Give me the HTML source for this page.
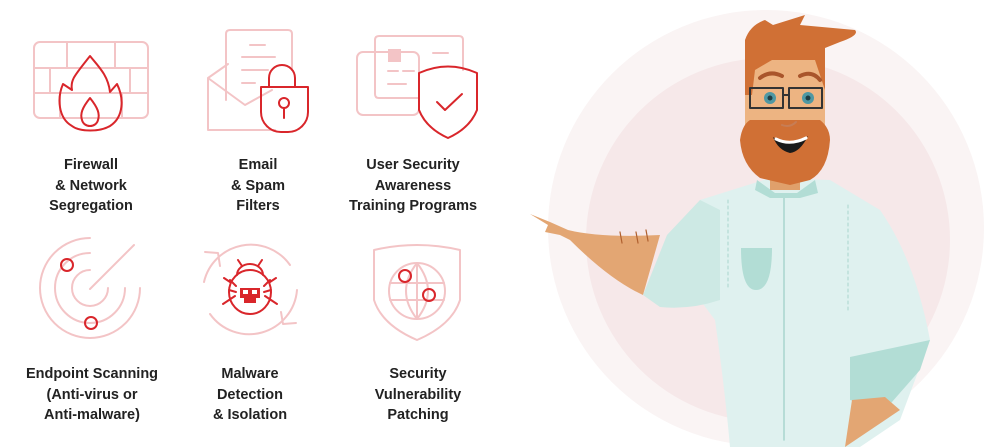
<!DOCTYPE html>
<html><head><meta charset="utf-8"><style>
html,body{margin:0;padding:0;background:#fff;}
body{width:999px;height:447px;position:relative;overflow:hidden;font-family:"Liberation Sans",sans-serif;}
.t{position:absolute;font-weight:bold;font-size:14.5px;line-height:20.5px;color:#222;text-align:center;width:180px;}
</style></head><body>
<svg width="999" height="447" style="position:absolute;left:0;top:0" fill="none" stroke-linecap="round" stroke-linejoin="round">
<!-- background circles -->
<circle cx="766" cy="228" r="218" fill="#faf4f4"/>
<circle cx="768" cy="240" r="182" fill="#f6e8e9"/>
<g stroke="#f3c4c6" stroke-width="2">
<!-- firewall bricks -->
<rect x="34" y="42" width="114" height="76" rx="6"/>
<path d="M34 68H148M34 93H148M67 42V68M115 42V68M50 68V93M130 68V93M60 93V118M122 93V118"/>
<!-- email -->
<path d="M208 78L245 105L272 90M208 78V130H275M208 78L228 64"/>
<path d="M226 100V34q0-4 4-4h58q4 0 4 4V70"/>
<path d="M250 45H265M242 57H275M242 70H268M242 83H255"/>
<!-- user security cards -->
<rect x="357" y="52" width="62" height="63" rx="6"/>
<path d="M418 98H379q-4 0-4-4V40q0-4 4-4h80q4 0 4 4V70"/>
<path d="M433 53H448M388 71H398M403 71H414M388 84H406"/>
<!-- radar -->
<path d="M140 288A50 50 0 1 1 90 238"/>
<path d="M125 288A35 35 0 1 1 90 253M108 288A18 18 0 1 1 90 270"/>
<path d="M90 289L134 245"/>
<!-- malware cycle -->
<path d="M290 265A48 48 0 0 0 204 282M210 314A48 48 0 0 0 297 290"/>
<path d="M205 252L218 253L220 266M296 323L283 324L281 312"/>
<!-- patching shield -->
<path d="M374 250Q417 240 460 250V300Q452 325 417 340Q382 325 374 300Z"/>
<circle cx="417" cy="291" r="28"/>
<path d="M417 263V319M390 283H444M390 300H444M417 263Q395 291 417 319M417 263Q439 291 417 319"/>
</g>
<rect x="388" y="49" width="13" height="13" fill="#f3c4c6"/>
<g stroke="#d9262b" stroke-width="2">
<!-- flame -->
<path d="M90 56C75 75 70 80 72 90L63 84C57 98 58 118 72 126C80 132 100 132 110 126C124 117 124 98 117 84L110 92C108 75 98 66 90 56Z"/>
<path d="M90 98C82 108 80 114 82 120C84 128 96 128 98 120C100 114 98 108 90 98Z"/>
<!-- lock -->
<path d="M269 87V78a13 13 0 0 1 26 0V87"/>
<path d="M261 87H308V112a20 20 0 0 1-20 20h-7a20 20 0 0 1-20-20Z"/>
<circle cx="284" cy="103" r="5"/><path d="M284 108V118"/>
<!-- shield -->
<path d="M419 73Q448 60 477 73V110Q470 128 448 138Q426 128 419 110Z"/>
<path d="M437 102L445 110L462 94"/>
<!-- radar dots -->
<circle cx="67" cy="265" r="6"/><circle cx="91" cy="323" r="6"/>
<!-- globe dots -->
<circle cx="405" cy="276" r="6"/><circle cx="429" cy="295" r="6"/>
<!-- bug -->
<ellipse cx="250" cy="292" rx="21" ry="22"/>
<path d="M237 275a13 11 0 0 1 26 0"/>
<path d="M242 266L238 260M258 266L262 260M230 280L236 286M224 278L230 282M270 280L264 286M276 278L270 282M229 300L235 296M223 304L229 300M271 300L265 296M277 304L271 300M229 290L236 292M271 290L264 292"/>
</g>
<path d="M240 288h20v10h-4v5h-12v-5h-4Z" fill="#d9262b"/>
<rect x="243" y="290" width="5" height="4" fill="#fff"/><rect x="252" y="290" width="5" height="4" fill="#fff"/>
<!-- character: shirt body -->
<path d="M700 200L770 178L830 180L880 210Q915 260 930 340L900 420L860 447H730Q725 390 715 320L700 300Z" fill="#dff1ef"/>
<!-- arm -->
<path d="M660 235Q600 238 568 230L550 222L530 214L548 225L545 232L560 235L570 240Q610 280 643 295Z" fill="#e3a673"/>
<path d="M667 235L700 200L720 210L720 300Q690 310 660 307L643 295Z" fill="#cde9e4"/>
<path d="M620 232L622 243M636 232L638 243M646 230L648 241" stroke="#b0602f" stroke-width="1.2"/>
<!-- right sleeve & hand -->
<path d="M850 357L930 340L920 370L885 410L850 400Z" fill="#b2ddd5"/>
<path d="M852 400L885 397L900 410L845 447Z" fill="#e3a673"/>
<!-- pocket -->
<path d="M741 248H772Q772 290 756 290Q741 290 741 248Z" fill="#b2ddd5"/>
<path d="M784 196V440" stroke="#a8d5ce" stroke-width="1.5"/>
<path d="M728 200V290M848 205V310" stroke="#a8d5ce" stroke-width="1" stroke-dasharray="3 3"/>
<!-- collar -->
<path d="M757 180L775 193L797 193L815 180L818 193L800 198L770 198L755 190Z" fill="#b2ddd5"/>
<!-- neck -->
<rect x="770" y="170" width="30" height="20" fill="#e0a06b"/>
<!-- head -->
<rect x="745" y="55" width="80" height="90" rx="6" fill="#edb482"/>
<path d="M740 140Q742 125 750 120L820 120Q830 128 830 140Q828 170 810 180L790 185L760 178Q742 165 740 140Z" fill="#d07035"/>
<path d="M773 137Q790 150 808 136Q800 152 790 153Q778 150 773 137Z" fill="#1a1a1a"/>
<path d="M776 139Q790 146 806 138" stroke="#fff" stroke-width="3"/>
<!-- hair -->
<path d="M745 95L745 40Q750 25 765 20L773 25L805 15L800 25L855 30Q860 35 840 42L825 48L825 90L815 60L772 60L755 70L752 95Z" fill="#d07035"/>
<path d="M760 78Q770 70 782 76M800 76Q812 70 820 80" stroke="#a9552b" stroke-width="4"/>
<!-- glasses -->
<rect x="750" y="88" width="33" height="20" stroke="#333" stroke-width="2"/>
<rect x="789" y="88" width="33" height="20" stroke="#333" stroke-width="2"/>
<path d="M783 95H789" stroke="#333" stroke-width="2"/>
<circle cx="770" cy="98" r="6" fill="#4f98a3"/><circle cx="808" cy="98" r="6" fill="#4f98a3"/>
<circle cx="770" cy="98" r="2.5" fill="#1f3d44"/><circle cx="808" cy="98" r="2.5" fill="#1f3d44"/>
<path d="M782 125Q790 128 796 122" stroke="#c77d55" stroke-width="2"/>
</svg>
<div class="t" style="left:1px;top:155px">Firewall<br>&amp; Network<br>Segregation</div>
<div class="t" style="left:168px;top:155px">Email<br>&amp; Spam<br>Filters</div>
<div class="t" style="left:323px;top:155px">User Security<br>Awareness<br>Training Programs</div>
<div class="t" style="left:2px;top:364px">Endpoint Scanning<br>(Anti-virus or<br>Anti-malware)</div>
<div class="t" style="left:160px;top:364px">Malware<br>Detection<br>&amp; Isolation</div>
<div class="t" style="left:328px;top:364px">Security<br>Vulnerability<br>Patching</div>
</body></html>
